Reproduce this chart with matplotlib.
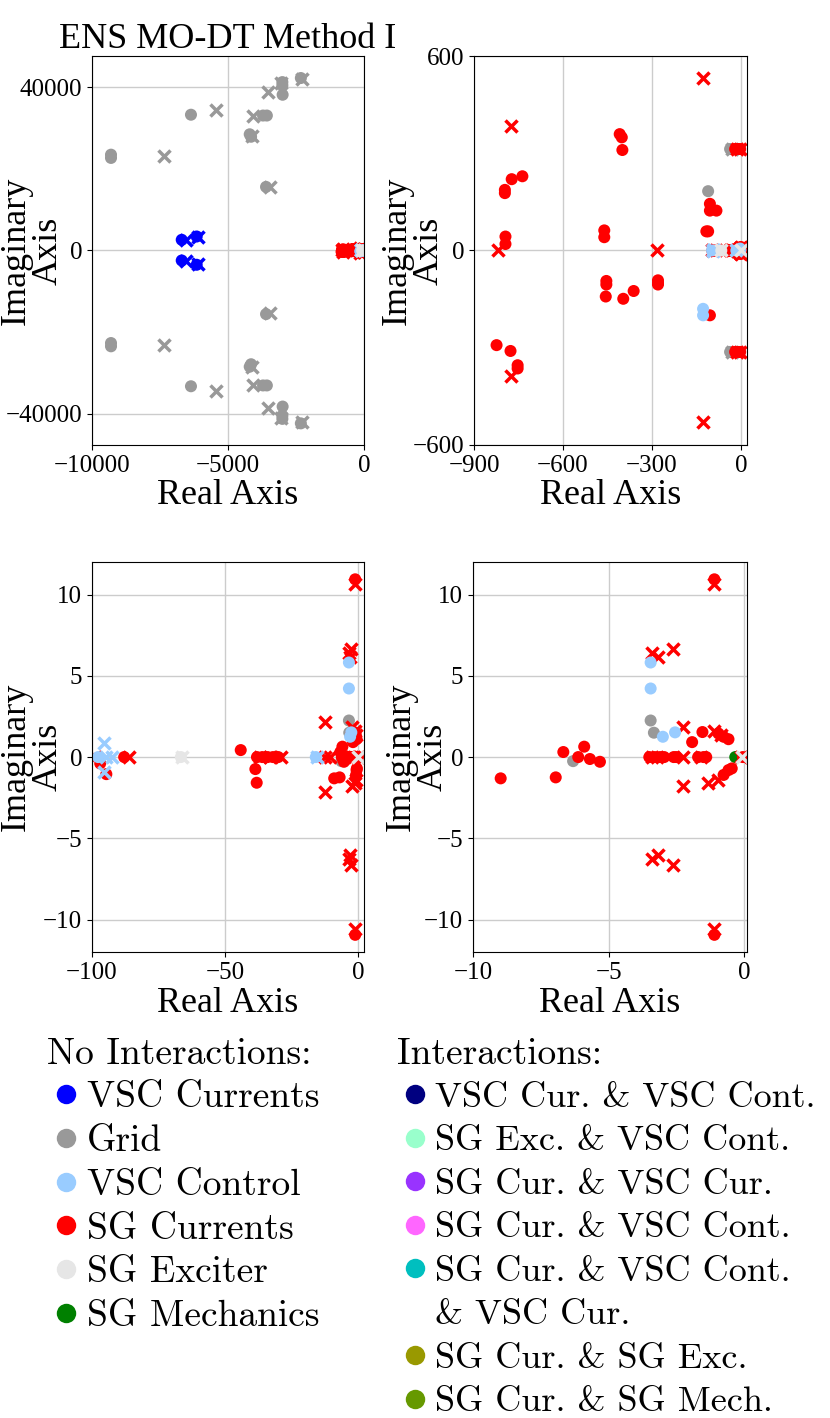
import numpy as np
import matplotlib
matplotlib.use("Agg")
import matplotlib.pyplot as plt
from matplotlib.lines import Line2D
from matplotlib.font_manager import FontProperties

plt.rcParams["font.family"] = ["Liberation Serif", "DejaVu Serif"]

# --- eigenvalue data (real, imag), circles = 'o', crosses = 'x' ---
# SG Currents (red)
sgc_o_re = [-796, -796, -773, -737, -794, -794, -409, -402, -400, -461, -461,
            -454, -454, -456, -397, -362, -280, -280, -280, -824, -777, -753, -753,
            -105, -83, -105, -117, -111, -105, -20, -10, -3, -20, -10, -3,
            -96.9, -94.6, -87.9, -44.1, -38.6, -38.1, -38, -36, -34, -32, -30,
            -1.1, -1.1, -8.98, -6.95, -6.67, -6.12, -5.9, -5.69, -5.32, -1.92,
            -1.54, -0.95, -0.76, -0.58, -0.76, -0.58, -0.46, -3.5, -3.3, -3.1,
            -2.95, -2.6, -2.5, -1.7, -1.5, -1.4, -0.05]
sgc_o_im = [187, 177, 220, 229, 43, 20, 359, 349, 310, 62, 41,
            -94, -105, -142, -149, -125, -92, -100, -105, -292, -310, -354, -364,
            144, 123, 123, 59, 59, -200, 313, 313, 313, -313, -313, -313,
            -0.39, -1.05, 0, 0.43, -0.74, -1.58, 0, 0, 0, 0, 0,
            10.94, -10.94, -1.31, -1.25, 0.31, 0, 0.64, -0.12, -0.29, 0.92,
            1.54, 1.45, 1.25, 1.1, -1.1, -0.8, -0.7, 0, 0, 0,
            0, 0, 0, 0, 0, 0, 0]
sgc_x_re = [-128, -128, -777, -777, -818, -284, -15, -5, -15, -5,
            -98.7, -85.9, -37, -33, -29, -12.5, -10.6, -12.5, -12.5,
            -1.1, -1.1, -3.41, -3.17, -2.64, -3.41, -3.17, -2.64, -2.24, -2.24,
            -1.13, -0.85, -1.32, -0.95, -3.4, -3.2, -2.24, -1.6, -0.12]
sgc_x_im = [531, -530, 385, -388, 0, 0, 313, 313, -313, -313,
            0, 0, 0, 0, 0, 0, 0, 2.17, -2.17,
            10.68, -10.6, 6.41, 6.13, 6.66, -6.29, -6.02, -6.64, 1.82, -1.78,
            1.6, 1.35, -1.58, -1.41, 0, 0, 0, 0, 0]

# Grid (gray)
grid_o_re = [-9300, -9300, -9300, -9300, -6360, -6360, -4200, -4150, -4200, -4150,
             -3710, -3570, -3710, -3570, -3600, -3600, -3000, -3000, -2990,
             -3000, -3000, -2990, -2320, -2320, -111, -37, -37, -3.45, -3.33, -6.31]
grid_o_im = [22700, 23500, -22700, -23500, 33300, -33300, 28500, 27900, -28500, -27900,
             33100, 33100, -33100, -33100, 15600, -15600, 41300, 40500, 38200,
             -41300, -40500, -38280, 42300, -42400, 183, 313, -313, 2.25, 1.5, -0.25]
grid_x_re = [-7350, -7350, -5440, -5440, -4080, -4080, -4100, -4100, -3450, -3450,
             -3520, -3520, -3050, -3050, -2280, -2280, -30, -30]
grid_x_im = [23070, -23070, 34360, -34500, 33100, -33100, 28200, -28600, 15600, -15400,
             38860, -38600, 41000, -41000, 42000, -42000, 313, -313]

# VSC Currents (blue)
vscc_o_re = [-6700, -6150, -6700, -6150]
vscc_o_im = [2620, 3430, -2450, -3500]
vscc_x_re = [-6550, -6100, -6550, -6100]
vscc_x_im = [2500, 3300, -2500, -3350]

# VSC Control (light blue)
vsct_o_re = [-128, -128, -97.7, -15.9, -3.45, -3.45, -3.0, -2.55]
vsct_o_im = [-180, -200, 0, 0, 5.82, 4.22, 1.25, 1.52]
vsct_x_re = [-95.4, -95.4, -94.6, -92.5, -15.5]
vsct_x_im = [0.88, -0.9, 0, 0, 0]

# SG Exciter (light gray)
sge_o_re = [-66.6]
sge_o_im = [0]
sge_x_re = [-66.0, -0.08]
sge_x_im = [0, 0]

# SG Mechanics (green)
sgm_o_re = [-0.33]
sgm_o_im = [0]

series = [
    ("#999999", grid_o_re, grid_o_im, grid_x_re, grid_x_im),
    ("#0000ff", vscc_o_re, vscc_o_im, vscc_x_re, vscc_x_im),
    ("#008000", sgm_o_re, sgm_o_im, [], []),
    ("#ff0000", sgc_o_re, sgc_o_im, sgc_x_re, sgc_x_im),
    ("#99ccff", vsct_o_re, vsct_o_im, vsct_x_re, vsct_x_im),
    ("#e6e6e6", sge_o_re, sge_o_im, sge_x_re, sge_x_im),
]

# panel limits and ticks
panels = [
    dict(pos=[0.1108, 0.6862, 0.3277, 0.2743], xlim=(-10000, 0), ylim=(-47700, 47700),
         xticks=[-10000, -5000, 0], yticks=[-40000, 0, 40000], lab=-0.10),
    dict(pos=[0.5711, 0.6862, 0.3289, 0.2743], xlim=(-900, 20), ylim=(-600, 600),
         xticks=[-900, -600, -300, 0], yticks=[-600, 0, 600], lab=-0.105),
    dict(pos=[0.1108, 0.3286, 0.3277, 0.2750], xlim=(-100, 2.2), ylim=(-12, 12),
         xticks=[-100, -50, 0], yticks=[-10, -5, 0, 5, 10], lab=-0.10),
    dict(pos=[0.5699, 0.3286, 0.3300, 0.2750], xlim=(-10, 0.1), ylim=(-12, 12),
         xticks=[-10, -5, 0], yticks=[-10, -5, 0, 5, 10], lab=-0.085),
]

fig = plt.figure(figsize=(8.3, 14.18), dpi=100)

axes = []
for p in panels:
    ax = fig.add_axes(p["pos"])
    ax.set_axisbelow(True)
    ax.grid(True, color="0.8", linewidth=1)
    for col, ore, oim, xre, xim in series:
        ax.scatter(ore, oim, s=75, marker="o", color=col, edgecolors="none")
        if len(xre):
            ax.scatter(xre, xim, s=75, marker="x", color=col, linewidths=2.5)
    ax.set_xlim(p["xlim"])
    ax.set_ylim(p["ylim"])
    ax.set_xticks(p["xticks"])
    ax.set_yticks(p["yticks"])
    ax.tick_params(labelsize=18)
    ax.set_xlabel("Real Axis", fontsize=26, labelpad=2)
    ax.set_ylabel("Imaginary\nAxis", fontsize=26, linespacing=0.95)
    ax.yaxis.set_label_coords(p["lab"], 0.5)
    axes.append(ax)

axes[0].set_title("ENS MO-DT Method I", fontsize=26, pad=6)

# legends
no_int = ["VSC Currents", "Grid", "VSC Control", "SG Currents", "SG Exciter", "SG Mechanics"]
no_int_col = ["#0000ff", "#999999", "#99ccff", "#ff0000", "#e6e6e6", "#008000"]
inter = ["VSC Cur. & VSC Cont.", "SG Exc. & VSC Cont.", "SG Cur. & VSC Cur.",
         "SG Cur. & VSC Cont.", "SG Cur. & VSC Cont.", "& VSC Cur.",
         "SG Cur. & SG Exc.", "SG Cur. & SG Mech."]
inter_col = ["#000080", "#99ffcc", "#9933ff", "#ff66ff", "#00bfbf", "none", "#999900", "#669900"]


def handles(labels, colors):
    return [Line2D([], [], marker="o", linestyle="", color=c, markersize=14,
                   markeredgewidth=0, label=l) for l, c in zip(labels, colors)]


for labs, cols, title, x, fs, ls in [(no_int, no_int_col, "No Interactions:", 0.0566, 27, 0.28),
                                     (inter, inter_col, "Interactions:", 0.478, 26, 0.31)]:
    cm = FontProperties(family="cmr10", size=fs)
    leg = fig.legend(handles=handles(labs, cols), title=title, loc="upper left",
                     bbox_to_anchor=(x, 0.2685), frameon=False, prop=cm,
                     title_fontproperties=FontProperties(family="cmr10", size=27),
                     alignment="left", handlelength=1.0, handletextpad=0.07,
                     labelspacing=ls, borderpad=0, borderaxespad=0)

fig.savefig("out.png", dpi=100)
